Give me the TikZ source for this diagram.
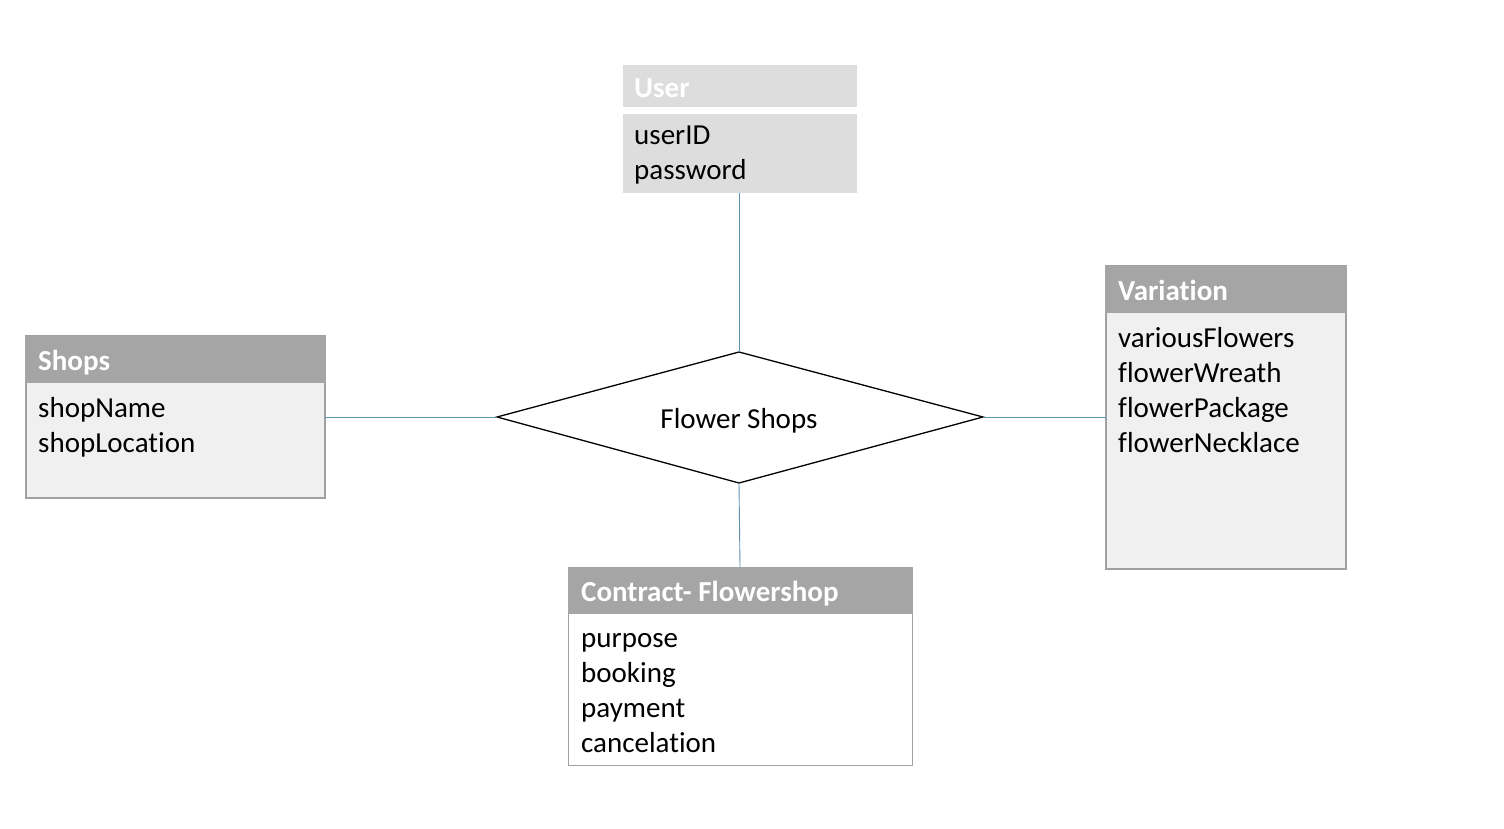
\documentclass[tikz,border=0pt]{standalone}
\usepackage{fontspec}
\setmainfont{Carlito}[Ligatures={NoCommon,NoRare,NoContextual}]
\definecolor{hdr}{HTML}{A5A5A5}
\definecolor{bodyg}{HTML}{F0F0F0}
\definecolor{userg}{HTML}{DDDDDD}
\definecolor{brd}{HTML}{A0A0A0}
\definecolor{conn}{RGB}{95,145,180}
\tikzset{
  bodybox/.style={fill=bodyg, draw=brd, line width=1.5pt},
  hdrtxt/.style={anchor=base west, inner sep=0pt, text=white, font=\fontsize{29}{34}\selectfont\bfseries},
  attr/.style={anchor=base west, inner sep=0pt, font=\fontsize{29}{35}\selectfont},
  link/.style={draw=conn, line width=0.9pt},
}
\begin{document}
\begin{tikzpicture}[x=1pt,y=-1pt]
\useasboundingbox (0,0) rectangle (1504,829);
% User
\fill[userg] (623,65) rectangle (857,107);
\fill[userg] (623,114) rectangle (857,193);
\node[hdrtxt] (userh) at (634,98) {User};
\node[attr] (usera1) at (634,145) {userID};
\node[attr] (usera2) at (634,180) {password};
\coordinate (userb) at (739,193);
% Shops
\path[bodybox] (26,336) rectangle (325,498);
\fill[hdr] (25.25,336) rectangle (325.75,383);
\node[hdrtxt] (shopsh) at (38,370) {Shops};
\node[attr] (shopsa1) at (38,417) {shopName};
\node[attr] (shopsa2) at (38,452) {shopLocation};
\coordinate (shopsr) at (325,417);
% Variation
\path[bodybox] (1106,266) rectangle (1346,569);
\fill[hdr] (1105.25,266) rectangle (1346.75,313);
\node[hdrtxt] (varh) at (1118,300) {Variation};
\node[attr] (vara1) at (1118,347) {variousFlowers};
\node[attr] (vara2) at (1118,382) {flowerWreath};
\node[attr] (vara3) at (1118,417) {flowerPackage};
\node[attr] (vara4) at (1118,452) {flowerNecklace};
\coordinate (varl) at (1106,417);
% Contract
\path[fill=white, draw=brd, line width=1pt] (568.5,567) rectangle (912.5,765.5);
\fill[hdr] (568,567) rectangle (913,614);
\node[hdrtxt] (conh) at (581,601) {Contract- Flowershop};
\node[attr] (cona1) at (581,647) {purpose};
\node[attr] (cona2) at (581,682) {booking};
\node[attr] (cona3) at (581,717) {payment};
\node[attr] (cona4) at (581,752) {cancelation};
\coordinate (cont) at (740,567);
% Diamond
\coordinate (dl) at (497,417);
\coordinate (dt) at (739,352);
\coordinate (dr) at (983,417);
\coordinate (db) at (739,483);
\draw[black, line width=1.3pt] (dl) -- (dt) -- (dr) -- (db) -- cycle;
\node[anchor=base, inner sep=0pt, font=\fontsize{29}{34}\selectfont] (rel) at (739,428) {Flower Shops};
% connectors
\draw[link] (userb) -- (dt);
\draw[link] (shopsr) -- (dl);
\draw[link] (dr) -- (varl);
\draw[link] (db) -- (cont);
\end{tikzpicture}
\end{document}
